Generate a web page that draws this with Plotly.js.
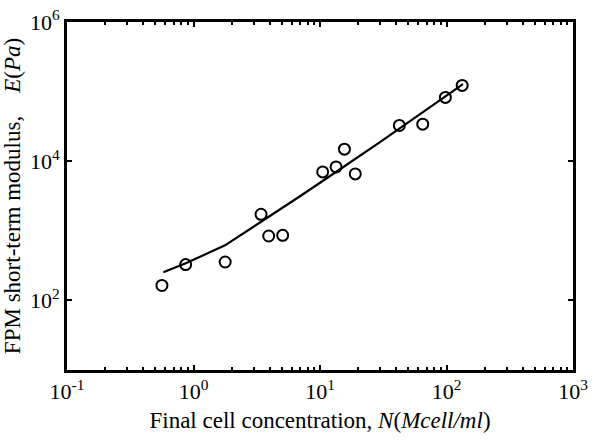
<!DOCTYPE html>
<html>
<head>
<meta charset="utf-8">
<script src="https://cdn.plot.ly/plotly-3.0.1.min.js"></script>
<style>
  body { margin: 0; background: #fff; }
  #plot { width: 601px; height: 443px; }
</style>
</head>
<body>
<div id="plot"></div>
<script>
// measured points: final cell concentration (Mcell/ml) vs short-term modulus (Pa)
var cellConc = [0.563, 0.867, 1.78, 3.42, 3.93, 5.07, 10.5, 13.4, 15.6, 19.0, 42.4, 64.9, 98, 133];
var modulus = [164, 327, 356, 1727, 842, 861, 7015, 8280, 14890, 6565, 32620, 34070, 82470, 122800];

// model curve
var fitConc = [0.577, 0.868, 1.775, 3.48, 6.95, 14.4, 29.8, 61.8, 134.9];
var fitModulus = [253, 341, 618, 1370, 3135, 7670, 18770, 47460, 128200];

var xTickVals = [0.1, 1, 10, 100, 1000];
var xTickText = ["10<sup>-1</sup>", "10<sup>0</sup>", "10<sup>1</sup>", "10<sup>2</sup>", "10<sup>3</sup>"];
var yTickVals = [100, 10000, 1000000];
var yTickText = ["10<sup>2</sup>", "10<sup>4</sup>", "10<sup>6</sup>"];

// minor ticks 2..9 in each decade along x
var xMinor = [];
for (var k = -1; k < 3; k++) {
  for (var m = 2; m < 10; m++) xMinor.push(m * Math.pow(10, k));
}

var serif = "'Liberation Serif', 'Times New Roman', serif";

var fit = {
  x: fitConc,
  y: fitModulus,
  mode: 'lines',
  line: {color: '#000', width: 2.2},
  hoverinfo: 'skip'
};

var pts = {
  x: cellConc,
  y: modulus,
  mode: 'markers',
  marker: {symbol: 'circle-open', size: 11, color: '#000', line: {width: 2, color: '#000'}}
};

var layout = {
  width: 601,
  height: 443,
  showlegend: false,
  paper_bgcolor: '#fff',
  plot_bgcolor: '#fff',
  margin: {l: 67, r: 28, t: 22, b: 73},
  font: {family: serif, color: '#000', size: 22},
  xaxis: {
    type: 'log',
    range: [-1, 3],
    tickmode: 'array',
    tickvals: xTickVals,
    ticktext: xTickText,
    tickfont: {family: serif, size: 22},
    ticks: 'inside',
    ticklen: 5,
    tickwidth: 2,
    tickcolor: '#000',
    minor: {tickmode: 'array', tickvals: xMinor, ticks: 'inside', ticklen: 3, tickwidth: 2, tickcolor: '#000', showgrid: false},
    showline: true,
    linecolor: '#000',
    linewidth: 3,
    mirror: 'ticks',
    showgrid: false,
    zeroline: false,
    automargin: false,
    title: {text: 'Final cell concentration, <i>N</i>(<i>Mcell/ml</i>)', font: {family: serif, size: 23}, standoff: 9}
  },
  yaxis: {
    type: 'log',
    range: [1, 6],
    tickmode: 'array',
    tickvals: yTickVals,
    ticktext: yTickText,
    tickfont: {family: serif, size: 22},
    ticks: 'inside',
    ticklen: 5,
    tickwidth: 2,
    tickcolor: '#000',
    showline: true,
    linecolor: '#000',
    linewidth: 3,
    mirror: 'ticks',
    showgrid: false,
    zeroline: false,
    automargin: false,
    title: {text: 'FPM short-term modulus,&nbsp;&nbsp;&nbsp;&nbsp;<i>E</i>(<i>Pa</i>)', font: {family: serif, size: 23}, standoff: 5}
  }
};

Plotly.newPlot('plot', [fit, pts], layout, {displayModeBar: false, staticPlot: true});
</script>
</body>
</html>
